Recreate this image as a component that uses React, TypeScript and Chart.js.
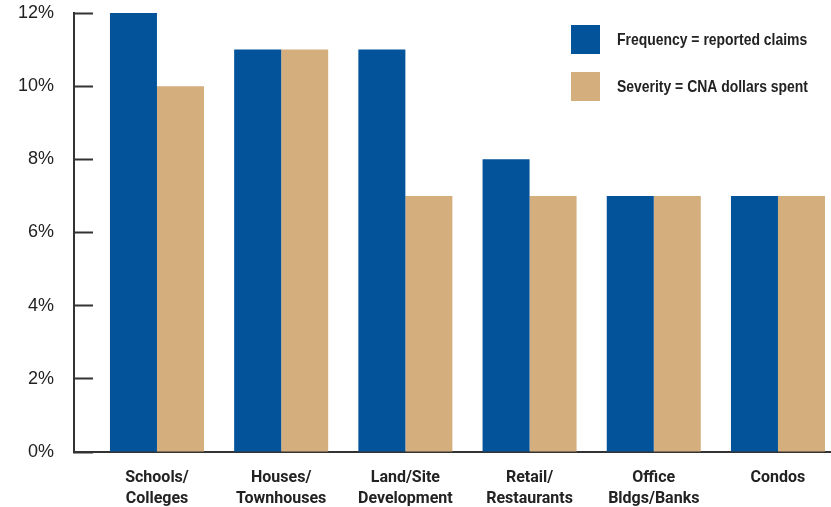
import React, { useEffect, useRef } from "react";
import { Chart, registerables } from "chart.js";

Chart.register(...registerables);

const categories: string[][] = [
  ["Schools/", "Colleges"],
  ["Houses/", "Townhouses"],
  ["Land/Site", "Development"],
  ["Retail/", "Restaurants"],
  ["Office", "Bldgs/Banks"],
  ["Condos"],
];
const frequency = [12, 11, 11, 8, 7, 7];
const severity = [10, 11, 7, 7, 7, 7];
const seriesLabels = ["Frequency = reported claims", "Severity = CNA dollars spent"];
const yTicks = [0, 2, 4, 6, 8, 10, 12];

const BLUE = "#03539b";
const TAN = "#d4ae7c";
const INK = "#222222";

const legendPlugin = {
  id: "boxLegend",
  afterDraw(chart: any) {
    const { ctx, chartArea } = chart;
    const x0 = chartArea.right - 260;
    let y0 = chartArea.top + 12;
    ctx.save();
    chart.data.datasets.forEach((ds: any) => {
      ctx.fillStyle = ds.backgroundColor;
      ctx.fillRect(x0, y0, 29, 29);
      ctx.save();
      ctx.fillStyle = INK;
      ctx.font = "bold 17px 'Liberation Sans', Arial, sans-serif";
      ctx.textAlign = "left";
      ctx.textBaseline = "middle";
      ctx.translate(x0 + 46, y0 + 15);
      ctx.scale(0.82, 1);
      ctx.fillText(ds.label, 0, 0);
      ctx.restore();
      y0 += 47;
    });
    ctx.restore();
  },
};

export default function App() {
  const ref = useRef<HTMLCanvasElement>(null);
  useEffect(() => {
    if (!ref.current) return;
    const chart = new Chart(ref.current, {
      type: "bar",
      data: {
        datasets: [
          {
            label: seriesLabels[0],
            data: frequency.map((v, i) => ({ x: i, y: v })),
            backgroundColor: BLUE,
          },
          {
            label: seriesLabels[1],
            data: severity.map((v, i) => ({ x: i, y: v })),
            backgroundColor: TAN,
          },
        ],
      },
      plugins: [legendPlugin],
      options: {
        animation: false,
        responsive: false,
        devicePixelRatio: 1,
        layout: { padding: { top: 13, right: 0, bottom: 0, left: 0 } },
        datasets: { bar: { categoryPercentage: 0.757, barPercentage: 1 } },
        plugins: { legend: { display: false }, tooltip: { enabled: false } },
        scales: {
          x: {
            type: "linear",
            offset: false,
            min: -0.668,
            max: 5.427,
            grid: { display: false, offset: false },
            border: { display: true, color: "#333", width: 2 },
            afterBuildTicks: (scale: any) => {
              scale.ticks = categories.map((_, i) => ({ value: i }));
            },
            afterFit: (scale: any) => {
              scale.height = 55;
              scale.paddingLeft = 0;
              scale.paddingRight = 0;
            },
            ticks: {
              autoSkip: false,
              maxRotation: 0,
              padding: 8,
              color: INK,
              font: {
                family: "Roboto, 'DejaVu Sans Condensed', sans-serif",
                size: 16,
                weight: "bold",
                lineHeight: 1.3,
              },
              callback: (v: any) => categories[Math.round(Number(v))] ?? "",
            },
          },
          y: {
            type: "linear",
            offset: false,
            min: 0,
            max: 12,
            afterBuildTicks: (scale: any) => {
              scale.ticks = yTicks.map((v) => ({ value: v }));
            },
            afterFit: (scale: any) => {
              scale.width = 74;
              scale.paddingTop = 0;
              scale.paddingBottom = 0;
            },
            grid: {
              display: true,
              offset: false,
              drawOnChartArea: false,
              drawTicks: true,
              tickLength: -19,
              tickColor: "#333",
              tickWidth: 2,
            },
            border: { display: true, color: "#333", width: 2 },
            ticks: {
              padding: 39,
              color: INK,
              font: { family: "'Liberation Sans', Arial, sans-serif", size: 18 },
              callback: (v: any) => `${v}%`,
            },
          },
        },
      },
    });
    return () => chart.destroy();
  }, []);
  return (
    <div style={{ position: "absolute", left: 0, top: 0, width: 831, height: 507, background: "#fff" }}>
      <canvas ref={ref} width={831} height={507} style={{ display: "block" }} />
    </div>
  );
}
